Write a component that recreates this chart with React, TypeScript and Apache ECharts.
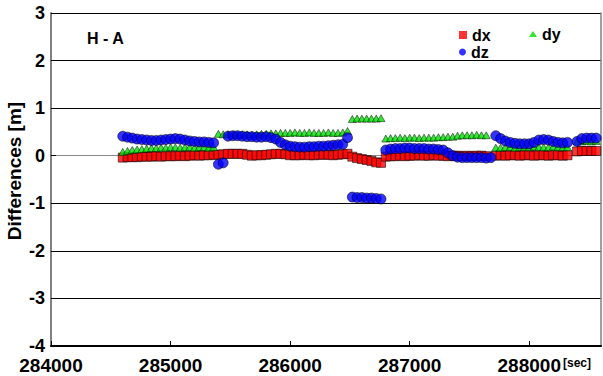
import React, { useEffect, useRef } from "react";
import * as echarts from "echarts";

const times = [
  284600, 284640, 284680, 284720, 284760, 284800, 284840, 284880, 284920, 284960,
  285000, 285040, 285080, 285120, 285160, 285200, 285240, 285280, 285320, 285360,
  285400, 285440, 285480, 285520, 285560, 285600, 285640, 285680, 285720, 285760,
  285800, 285840, 285880, 285920, 285960, 286000, 286040, 286080, 286120, 286160,
  286200, 286240, 286280, 286320, 286360, 286400, 286440, 286480, 286520, 286560,
  286600, 286640, 286680, 286720, 286760, 286800, 286840, 286880, 286920, 286960,
  287000, 287040, 287080, 287120, 287160, 287200, 287240, 287280, 287320, 287360,
  287400, 287440, 287480, 287520, 287560, 287600, 287640, 287680, 287720, 287760,
  287800, 287840, 287880, 287920, 287960, 288000, 288040, 288080, 288120, 288160,
  288200, 288240, 288280, 288320, 288360, 288400, 288440, 288480, 288520, 288560,
];

const dx = [
  -0.04, -0.03, -0.03, -0.03, -0.02, -0.02, -0.02, -0.01, -0.02, -0.01,
  -0.01, -0.01, 0.0, -0.01, 0.0, 0.01, 0.0, 0.01, 0.01, 0.02,
  0.02, 0.03, 0.04, 0.04, 0.04, 0.04, 0.02, 0.0, 0.01, 0.01,
  0.02, 0.03, 0.04, 0.04, 0.03, 0.01, 0.01, 0.01, 0.02, 0.01,
  0.01, 0.02, 0.02, 0.02, 0.01, 0.02, 0.03, 0.04, -0.02, -0.05,
  -0.07, -0.09, -0.11, -0.14, -0.15, -0.02, -0.01, -0.01, 0.0, -0.01,
  0.0, 0.0, 0.01, 0.0, 0.0, 0.01, 0.0, 0.0, -0.01, 0.0,
  0.0, -0.01, 0.0, -0.01, 0.0, 0.0, -0.01, null, 0.0, 0.01,
  0.0, 0.01, 0.01, 0.0, 0.01, 0.01, 0.0, 0.01, 0.01, 0.0,
  0.01, 0.01, 0.0, 0.01, null, 0.09, 0.1, 0.1, 0.1, 0.1,
];

const dy = [
  0.08, 0.1, 0.12, 0.13, 0.14, 0.15, 0.16, 0.16, 0.17, 0.17,
  0.18, 0.18, 0.17, 0.18, 0.18, 0.17, 0.18, 0.18, 0.17, 0.18,
  0.46, 0.45, 0.45, 0.44, 0.44, 0.45, 0.45, 0.44, 0.45, 0.46,
  0.46, 0.47, 0.47, 0.48, 0.48, 0.48, 0.49, 0.48, 0.48, 0.49,
  0.48, 0.48, 0.48, 0.49, 0.48, 0.48, 0.49, 0.52, 0.77, 0.78,
  0.78, 0.78, 0.78, 0.78, 0.79, 0.36, 0.37, 0.37, 0.38, 0.37,
  0.38, 0.38, 0.37, 0.38, 0.38, 0.38, 0.39, 0.39, 0.4, 0.4,
  0.42, 0.43, 0.43, 0.43, 0.44, 0.43, 0.43, null, 0.17, 0.17,
  0.18, 0.18, 0.17, 0.18, 0.18, 0.18, 0.19, 0.18, 0.18, 0.18,
  0.19, 0.18, 0.18, 0.18, null, 0.3, 0.3, 0.31, 0.3, 0.31,
];

const dz = [
  0.41, 0.39, 0.37, 0.35, 0.34, 0.33, 0.32, 0.32, 0.33, 0.34,
  0.35, 0.36, 0.35, 0.33, 0.31, 0.3, 0.29, 0.29, 0.28, 0.27,
  -0.18, -0.15, 0.41, 0.42, 0.42, 0.41, 0.4, 0.4, 0.39, 0.39,
  0.4, 0.38, 0.35, 0.28, 0.23, 0.2, 0.19, 0.18, 0.18, 0.19,
  0.19, 0.2, 0.2, 0.21, 0.22, 0.23, 0.24, 0.38, -0.87, -0.88,
  -0.88, -0.89, -0.89, -0.9, -0.91, 0.12, 0.14, 0.15, 0.15, 0.16,
  0.16, 0.15, 0.15, 0.15, 0.14, 0.14, 0.13, 0.12, 0.06, 0.0,
  -0.03, -0.04, -0.04, -0.04, -0.04, -0.04, -0.05, -0.04, 0.42, 0.36,
  0.31, 0.28, 0.26, 0.25, 0.25, 0.25, 0.28, 0.33, 0.34, 0.33,
  0.3, 0.28, 0.27, 0.28, null, 0.3, 0.36, 0.37, 0.37, 0.37,
];

const yTicks = [-4, -3, -2, -1, 0, 1, 2, 3];
const xTicks = [284000, 285000, 286000, 287000, 288000];

const FONT = "'Liberation Sans', Arial, sans-serif";

function pairs(vals: (number | null)[]) {
  const out: [number, number][] = [];
  vals.forEach((v, i) => {
    if (v !== null) out.push([times[i], v]);
  });
  return out;
}

export default function App() {
  const ref = useRef<HTMLDivElement>(null);
  useEffect(() => {
    document.body.style.margin = "0";
    if (!ref.current) return;
    const chart = echarts.init(ref.current, undefined, { renderer: "svg" });
    const gridColors = yTicks.map((t) => (t === 0 ? "#8a8a8a" : "#000"));
    const legendText = { fontFamily: FONT, fontSize: 16, fontWeight: "bold", color: "#000" };
    chart.setOption({
      animation: false,
      backgroundColor: "#fff",
      textStyle: { fontFamily: FONT },
      grid: { left: 51, right: 2, top: 13, bottom: 30, containLabel: false },
      title: {
        text: "H - A",
        left: 87,
        top: 30,
        padding: 0,
        textStyle: { fontFamily: FONT, fontSize: 16, fontWeight: "bold", color: "#000" },
      },
      legend: [
        {
          data: ["dx"],
          left: 459,
          top: 27,
          padding: 0,
          itemWidth: 8,
          itemHeight: 8,
          icon: "rect",
          itemStyle: { borderWidth: 0 },
          textStyle: legendText,
        },
        {
          data: ["dy"],
          left: 529,
          top: 26,
          padding: 0,
          itemWidth: 8,
          itemHeight: 6,
          icon: "triangle",
          itemStyle: { borderWidth: 0 },
          textStyle: legendText,
        },
        {
          data: ["dz"],
          left: 459,
          top: 44,
          padding: 0,
          itemWidth: 7,
          itemHeight: 7,
          icon: "circle",
          itemStyle: { borderWidth: 0 },
          textStyle: legendText,
        },
      ],
      xAxis: {
        type: "value",
        min: xTicks[0],
        max: 288600,
        interval: 1000,
        axisLine: { show: true, onZero: false, lineStyle: { color: "#000", width: 2 } },
        axisTick: { show: true, inside: true, length: 5, lineStyle: { color: "#000", width: 1 } },
        axisLabel: {
          showMaxLabel: false,
          margin: 10,
          fontFamily: FONT,
          fontSize: 19,
          fontWeight: "bold",
          color: "#000",
          formatter: (v: number) => String(v),
        },
        splitLine: { show: false },
      },
      yAxis: [
        {
          type: "value",
          min: yTicks[0],
          max: yTicks[yTicks.length - 1],
          interval: 1,
          axisLine: { show: true, lineStyle: { color: "#808080", width: 2 } },
          axisTick: { show: true, inside: true, length: 5, lineStyle: { color: "#000" } },
          axisLabel: {
            margin: 6,
            fontFamily: FONT,
            fontSize: 18,
            fontWeight: "bold",
            color: "#000",
            padding: [6, 0, 0, 0],
          },
          splitLine: { show: true, lineStyle: { color: gridColors, width: 1.2 } },
        },
        {
          type: "value",
          position: "right",
          min: yTicks[0],
          max: yTicks[yTicks.length - 1],
          interval: 1,
          axisLine: { show: true, lineStyle: { color: "#808080", width: 1.5 } },
          axisTick: { show: false },
          axisLabel: { show: false },
          splitLine: { show: false },
        },
      ],
      graphic: [
        {
          type: "text",
          x: 14,
          y: 171,
          rotation: Math.PI / 2,
          style: {
            text: "Differences [m]",
            fontFamily: FONT,
            fontSize: 19,
            fontWeight: "bold",
            fill: "#000",
            align: "center",
            verticalAlign: "middle",
          },
        },
        {
          type: "text",
          x: 563,
          y: 357,
          style: {
            text: "[sec]",
            fontFamily: FONT,
            fontSize: 12,
            fontWeight: "bold",
            fill: "#000",
          },
        },
      ],
      series: [
        {
          name: "dx",
          type: "scatter",
          symbol: "rect",
          symbolSize: 9,
          data: pairs(dx),
          itemStyle: { color: "#ff0000", borderColor: "#000", borderWidth: 0.7 },
        },
        {
          name: "dy",
          type: "scatter",
          symbol: "triangle",
          symbolSize: [8, 7],
          data: pairs(dy),
          itemStyle: { color: "#00e000", borderColor: "#000", borderWidth: 0.6 },
        },
        {
          name: "dz",
          type: "scatter",
          symbol: "circle",
          symbolSize: 10,
          data: pairs(dz),
          itemStyle: { color: "#0000ff", borderColor: "#000", borderWidth: 0.7 },
        },
      ],
    });
    return () => chart.dispose();
  }, []);
  return <div ref={ref} style={{ width: 603, height: 376 }} />;
}
